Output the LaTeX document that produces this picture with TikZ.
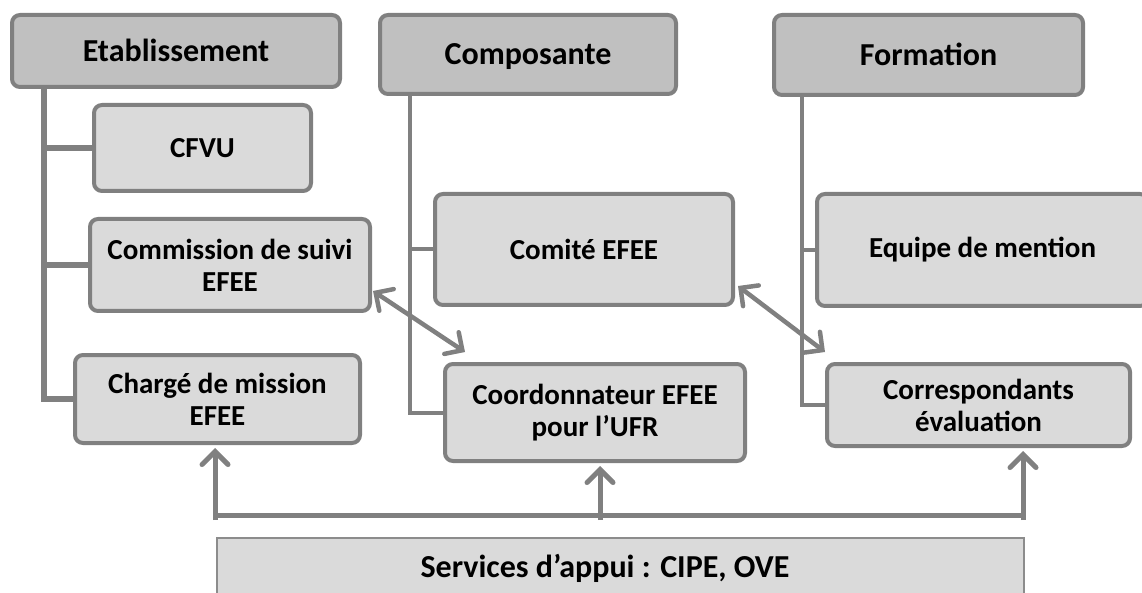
\documentclass[tikz,border=0pt]{standalone}
\usepackage{fontspec}
\setmainfont{Carlito}
\usetikzlibrary{arrows.meta}
\definecolor{hdrfill}{RGB}{192,192,192}
\definecolor{boxfill}{RGB}{218,218,218}
\definecolor{edge}{RGB}{128,128,128}
\definecolor{servedge}{RGB}{140,140,140}
\pgfdeclarelayer{background}
\pgfsetlayers{background,main}
\begin{document}
\begin{tikzpicture}[x=1pt,y=-1pt,
  every node/.style={font=\fontsize{29}{32}\selectfont\bfseries, align=center, inner sep=0pt},
  bigtext/.style={font=\fontsize{32}{36}\selectfont\bfseries},
  hdr/.style={draw=edge, line width=4pt, fill=hdrfill, rounded corners=8pt, bigtext, text height=21pt, text depth=0pt},
  sub/.style={draw=edge, line width=4pt, fill=boxfill, rounded corners=8pt},
  servbox/.style={draw=servedge, line width=1.5pt, fill=boxfill},
  trunk/.style={draw=edge, line width=4pt},
  bigtrunk/.style={draw=edge, line width=5.5pt},
  barb/.tip={Straight Barb[length=13pt,width=26pt,line cap=round]},
  link/.style={draw=edge, line width=4.5pt, barb-barb},
  uparr/.style={draw=edge, line width=5pt, -barb},
  bus/.style={draw=edge, line width=5pt}
]
\useasboundingbox (0,0) rectangle (1142,593);
\clip (0,0) rectangle (1142,593);

% header boxes
\node[hdr, minimum width=328pt, minimum height=72pt] (etab) at (176,51) {Etablissement};
\node[hdr, minimum width=296pt, minimum height=79pt] (comp) at (528,54.5) {Composante};
\node[hdr, minimum width=309pt, minimum height=80pt] (form) at (928.5,55) {Formation};

% Etablissement column
\node[sub, minimum width=217pt, minimum height=86pt] (cfvu) at (202.5,148) {CFVU};
\node[sub, minimum width=280pt, minimum height=92pt] (comm) at (230,265) {Commission de suivi\\EFEE};
\node[sub, minimum width=285pt, minimum height=88pt] (charge) at (217.5,399) {Chargé de mission\\EFEE};

% Composante column
\node[sub, minimum width=298pt, minimum height=111pt] (comite) at (584,249.5) {Comité EFEE};
\node[sub, minimum width=300pt, minimum height=97pt] (coord) at (595,412.5) {Coordonnateur EFEE\\pour l’UFR};

% Formation column
\node[sub, minimum width=331pt, minimum height=112pt] (equipe) at (982.5,250) {Equipe de mention};
\node[sub, minimum width=303pt, minimum height=82pt] (corr) at (978.5,405) {Correspondants\\évaluation};

% Services
\node[servbox, minimum width=807pt, minimum height=81pt] (serv) at (620.5,578.5) {};
\node[anchor=base, bigtext] (servtxt) at (605,577) {Services d’appui : CIPE, OVE};

% trunks
\coordinate (etabT) at (44,80);
\coordinate (compT) at (410,90);
\coordinate (formT) at (802,90);
\begin{pgfonlayer}{background}
\draw[bigtrunk] (etabT) |- (charge.west);
\draw[bigtrunk] (etabT |- cfvu.west) -- (cfvu.west);
\draw[bigtrunk] (etabT |- comm.west) -- (comm.west);
\draw[trunk] (compT) |- (coord.west);
\draw[trunk] (compT |- comite.west) -- (comite.west);
\draw[trunk] (formT) |- (corr.west);
\draw[trunk] (formT |- equipe.west) -- (equipe.west);
\end{pgfonlayer}

% double arrows
\coordinate (a1) at (373,291);
\coordinate (a2) at (465,352);
\coordinate (b1) at (738,286);
\coordinate (b2) at (825,352);
\draw[link] (a1) -- (a2);
\draw[link] (b1) -- (b2);

% bus and up arrows
\coordinate (busL) at (215,515);
\coordinate (busR) at (1023,515);
\coordinate (busM) at (600,515);
\draw[bus] ([xshift=2pt]busL) -- ([xshift=-1pt]busR);
\draw[uparr] ([yshift=-5pt]busL) -- ([yshift=-3pt]busL |- charge.south);
\draw[uparr] ([yshift=-5pt]busM) -- ([yshift=-3pt]busM |- coord.south);
\draw[uparr] ([yshift=-5pt]busR) -- ([yshift=-3pt]busR |- corr.south);
\end{tikzpicture}
\end{document}
